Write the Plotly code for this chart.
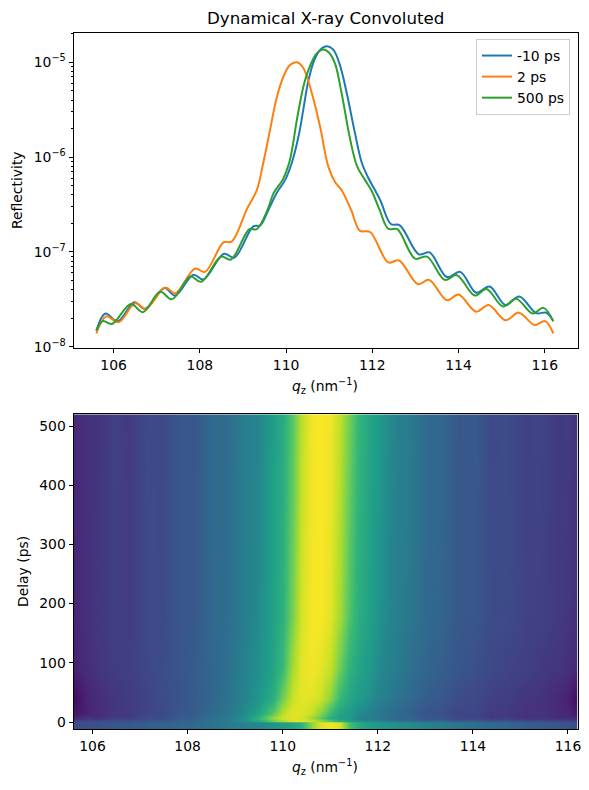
import plotly.graph_objects as go

# Reflectivity curves, stored as (qz in nm^-1, log10 R)
q_m10 = [105.6,105.81,106.1,106.48,106.73,107.18,107.43,107.85,108.08,108.56,108.8,109.24,109.4,109.59,109.78,109.98,110.13,110.29,110.4,110.52,110.67,110.83,110.96,111.1,111.25,111.41,111.6,111.76,111.91,112.18,112.43,112.64,113.08,113.33,113.73,114.04,114.41,114.72,115.09,115.41,115.8,116.03,116.2]
log_m10 = [-7.83,-7.65,-7.73,-7.53,-7.60,-7.38,-7.46,-7.24,-7.29,-7.02,-7.06,-6.73,-6.72,-6.557,-6.38,-6.24,-6.065,-5.78,-5.50,-5.19,-4.96,-4.853,-4.83,-4.87,-5.03,-5.33,-5.75,-6.065,-6.22,-6.45,-6.705,-6.72,-7.025,-7.005,-7.265,-7.21,-7.43,-7.365,-7.56,-7.47,-7.645,-7.64,-7.73]

q_2 = [105.6,105.83,106.12,106.5,106.75,107.2,107.43,107.89,108.12,108.55,108.74,109.1,109.32,109.47,109.63,109.78,109.94,110.09,110.25,110.4,110.6,110.79,110.98,111.14,111.29,111.51,111.71,111.95,112.37,112.62,113.06,113.32,113.73,114.0,114.41,114.7,115.09,115.4,115.76,116.01,116.2]
log_2 = [-7.86,-7.68,-7.74,-7.54,-7.60,-7.375,-7.435,-7.175,-7.21,-6.90,-6.89,-6.54,-6.35,-6.065,-5.71,-5.38,-5.15,-5.03,-5.0,-5.06,-5.33,-5.68,-6.10,-6.265,-6.35,-6.557,-6.775,-6.79,-7.11,-7.09,-7.34,-7.295,-7.51,-7.45,-7.63,-7.56,-7.72,-7.64,-7.77,-7.73,-7.86]

q_500 = [105.6,105.75,105.96,106.4,106.68,107.08,107.35,107.78,108.03,108.49,108.72,109.15,109.32,109.57,109.71,109.92,110.09,110.25,110.4,110.52,110.71,110.87,111.0,111.14,111.29,111.49,111.65,111.83,111.99,112.17,112.37,112.58,112.99,113.27,113.68,113.96,114.38,114.65,115.03,115.34,115.72,115.97,116.2]
log_500 = [-7.83,-7.73,-7.76,-7.55,-7.635,-7.42,-7.50,-7.26,-7.315,-7.05,-7.08,-6.76,-6.76,-6.557,-6.38,-6.24,-6.03,-5.61,-5.26,-5.08,-4.906,-4.864,-4.90,-5.02,-5.33,-5.82,-6.10,-6.24,-6.36,-6.557,-6.755,-6.76,-7.07,-7.05,-7.295,-7.245,-7.46,-7.39,-7.575,-7.495,-7.65,-7.59,-7.73]

# Delay map: log10 R on a qz / delay grid
map_q = [105.6,105.85,106.1,106.45,106.75,107.15,107.45,107.85,108.1,108.55,108.8,109.2,109.5,109.8,110.0,110.2,110.4,110.6,110.8,111.0,111.2,111.4,111.6,111.8,112.0,112.2,112.45,112.65,113.05,113.35,113.7,114.05,114.4,114.7,115.1,115.4,115.8,116.0,116.2]
map_delay = [-12.3, -0.1, 0.1, 2.5, 6, 15, 40, 90, 180, 520]

row_before = [-7.42,-7.37,-7.35,-7.29,-7.26,-7.20,-7.16,-7.11,-7.07,-6.93,-6.84,-6.73,-6.64,-6.49,-6.35,-6.23,-6.06,-5.44,-5.02,-4.92,-5.02,-5.86,-6.18,-6.31,-6.41,-6.48,-6.55,-6.60,-6.73,-6.79,-6.89,-6.97,-7.05,-7.11,-7.20,-7.26,-7.31,-7.36,-7.39]
row_strip = [-7.55,-7.48,-7.48,-7.40,-7.40,-7.28,-7.28,-7.14,-7.12,-6.92,-6.85,-6.52,-6.15,-5.62,-5.25,-5.02,-4.98,-5.1,-5.38,-5.78,-6.1,-6.3,-6.52,-6.62,-6.68,-6.84,-6.95,-6.98,-7.12,-7.12,-7.26,-7.26,-7.37,-7.35,-7.46,-7.44,-7.52,-7.52,-7.6]
row_6 = [-7.86,-7.68,-7.74,-7.55,-7.60,-7.39,-7.44,-7.19,-7.21,-6.90,-6.85,-6.48,-6.0,-5.35,-5.1,-5.0,-5.06,-5.33,-5.7,-6.12,-6.3,-6.42,-6.7,-6.78,-6.82,-7.0,-7.11,-7.1,-7.34,-7.3,-7.5,-7.46,-7.63,-7.56,-7.72,-7.64,-7.77,-7.73,-7.86]
row_15 = [-8.0,-7.88,-7.78,-7.68,-7.62,-7.5,-7.44,-7.28,-7.24,-7.02,-6.9,-6.6,-6.25,-5.7,-5.2,-5.0,-5.02,-5.15,-5.45,-5.95,-6.25,-6.38,-6.6,-6.72,-6.82,-6.98,-7.1,-7.14,-7.34,-7.36,-7.5,-7.5,-7.62,-7.62,-7.72,-7.7,-7.8,-7.85,-8.0]
row_40 = [-8.12,-7.88,-7.78,-7.68,-7.6,-7.52,-7.42,-7.34,-7.24,-7.1,-6.95,-6.68,-6.45,-6.1,-5.6,-5.12,-4.98,-5.0,-5.1,-5.45,-5.95,-6.22,-6.35,-6.52,-6.68,-6.8,-6.95,-7.05,-7.22,-7.28,-7.42,-7.46,-7.56,-7.58,-7.68,-7.7,-7.82,-7.88,-8.12]
row_90 = [-7.9,-7.78,-7.68,-7.60,-7.57,-7.47,-7.42,-7.30,-7.24,-7.08,-6.98,-6.72,-6.52,-6.24,-5.95,-5.3,-4.98,-4.92,-4.98,-5.15,-5.6,-6.05,-6.25,-6.38,-6.58,-6.72,-6.82,-6.95,-7.12,-7.2,-7.3,-7.38,-7.46,-7.52,-7.56,-7.62,-7.68,-7.74,-7.82]
row_180 = [-7.85,-7.74,-7.66,-7.57,-7.60,-7.45,-7.45,-7.28,-7.28,-7.06,-7.02,-6.76,-6.6,-6.28,-6.08,-5.55,-5.05,-4.9,-4.88,-5.0,-5.3,-5.8,-6.12,-6.28,-6.45,-6.65,-6.78,-6.84,-7.08,-7.12,-7.28,-7.30,-7.44,-7.44,-7.53,-7.55,-7.62,-7.66,-7.76]
row_520 = [-7.83,-7.74,-7.70,-7.55,-7.62,-7.43,-7.47,-7.27,-7.30,-7.05,-7.05,-6.76,-6.66,-6.32,-6.16,-5.75,-5.19,-4.92,-4.87,-4.93,-5.15,-5.6,-6.0,-6.22,-6.37,-6.57,-6.76,-6.78,-7.07,-7.07,-7.30,-7.26,-7.46,-7.40,-7.55,-7.51,-7.63,-7.60,-7.73]
map_rows = [row_before, row_before, row_strip, row_strip, row_6, row_15, row_40, row_90, row_180, row_520]

curve_names = ["-10 ps", "2 ps", "500 ps"]
curve_colors = ["#1f77b4", "#ff7f0e", "#2ca02c"]
decades = [-8, -7, -6, -5]
q_ticks = [106, 108, 110, 112, 114, 116]
delay_ticks = [0, 100, 200, 300, 400, 500]

W, H = 589, 790
FONT = "DejaVu Sans"
INK = "#000000"
LABEL = 13.9

fig = go.Figure()

for name, color, q, lg in zip(curve_names, curve_colors,
                              [q_m10, q_2, q_500], [log_m10, log_2, log_500]):
    fig.add_trace(go.Scatter(
        x=q, y=[10 ** v for v in lg], mode="lines", name=name,
        line=dict(color=color, width=2, shape="spline", smoothing=1.0),
        xaxis="x", yaxis="y",
    ))

fig.add_trace(go.Heatmap(
    x=map_q, y=map_delay, z=map_rows, colorscale="Viridis",
    zmin=-8.2, zmax=-4.86, zsmooth="best", showscale=False,
    xaxis="x2", yaxis="y2", hoverinfo="skip",
))

axis_common = dict(
    showline=True, linecolor=INK, linewidth=1, mirror=True,
    ticks="outside", ticklen=4, tickwidth=1, tickcolor=INK,
    showgrid=False, zeroline=False, automargin=False,
    tickfont=dict(family=FONT, size=LABEL, color=INK),
)

minor_vals = [m * 10.0 ** d for d in [-8, -7, -6, -5] for m in range(2, 10)]
minor_vals = [v for v in minor_vals if v < 2.1e-5]


def page_text(text, x, y, angle=0, size=LABEL):
    """Text placed by page pixel position."""
    return dict(text=text, x=x / W, y=1 - y / H, xref="paper", yref="paper",
                xanchor="center", yanchor="middle", showarrow=False, textangle=angle,
                font=dict(family=FONT, size=size, color=INK))


q_label = "<i>q</i><sub>z</sub> (nm<sup>−1</sup>)"

fig.update_layout(
    width=W, height=H, autosize=False,
    margin=dict(l=0, r=0, t=0, b=0),
    paper_bgcolor="white", plot_bgcolor="white",
    font=dict(family=FONT, size=LABEL, color=INK),
    xaxis=dict(axis_common, domain=[73.5 / W, 577.5 / W], range=[105.07, 116.76],
               anchor="y", tickvals=q_ticks),
    yaxis=dict(axis_common, domain=[1 - 348 / H, 1 - 32.5 / H], type="log",
               range=[-8.013, -4.686], anchor="x",
               tickvals=[10.0 ** d for d in decades],
               ticktext=[f"10<sup>−{abs(d)}</sup>" for d in decades],
               minor=dict(ticks="outside", ticklen=2, tickwidth=0.8, tickcolor=INK,
                          tickvals=minor_vals, showgrid=False)),
    xaxis2=dict(axis_common, domain=[73.5 / W, 577.5 / W], range=[105.6, 116.2],
                anchor="y2", tickvals=q_ticks),
    yaxis2=dict(axis_common, domain=[1 - 729.3 / H, 1 - 414.3 / H],
                range=[-12.3, 519.8], anchor="x2", tickvals=delay_ticks),
    legend=dict(x=570 / W, xanchor="right", y=1 - 39 / H, yanchor="top",
                bgcolor="rgba(255,255,255,0.8)", bordercolor="#cccccc", borderwidth=1,
                font=dict(family=FONT, size=LABEL, color=INK), tracegroupgap=0,
                itemwidth=30),
    annotations=[
        page_text("Dynamical X-ray Convoluted", 325, 18, size=16.67),
        page_text(q_label, 325, 386),
        page_text(q_label, 325, 767),
        page_text("Reflectivity", 17, 190, angle=-90),
        page_text("Delay (ps)", 23, 572, angle=-90),
    ],
)

fig.write_html("out.html")
